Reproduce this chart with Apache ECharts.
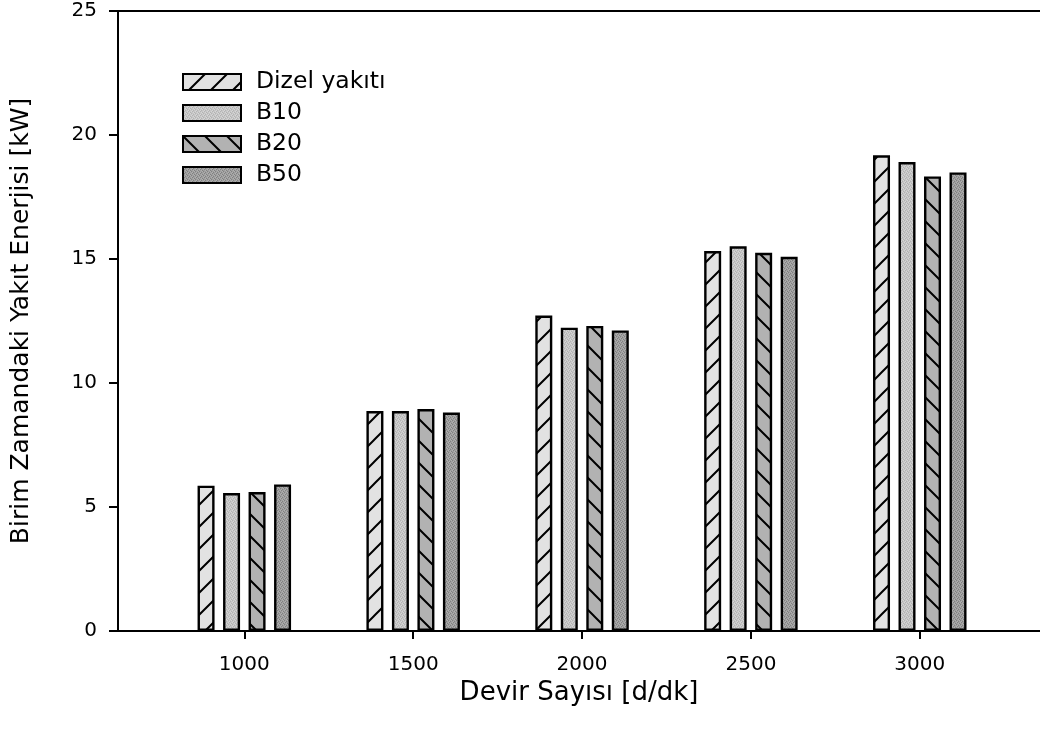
<!DOCTYPE html>
<html>
<head>
<meta charset="utf-8">
<script src="https://cdn.jsdelivr.net/npm/echarts@6/dist/echarts.min.js"></script>
<style>
  html, body { margin: 0; padding: 0; background: #fff; }
  #chart { width: 1040px; height: 742px; }
</style>
</head>
<body>
<div id="chart"></div>
<script>
// Engine speed groups (rpm)
const speeds = [1000, 1500, 2000, 2500, 3000];
// Fuel energy per unit time [kW] for each fuel
const dizel = [5.86, 8.87, 12.72, 15.32, 19.18];
const b10   = [5.56, 8.87, 12.23, 15.51, 18.91];
const b20   = [5.60, 8.95, 12.30, 15.25, 18.33];
const b50   = [5.91, 8.81, 12.12, 15.09, 18.49];
const seriesNames = ['Dizel yakıtı', 'B10', 'B20', 'B50'];

// Fill patterns for the bars
function hatch(base, dir, step) {
  const c = document.createElement('canvas');
  c.width = step; c.height = step;
  const g = c.getContext('2d');
  g.fillStyle = base; g.fillRect(0, 0, step, step);
  g.strokeStyle = '#000'; g.lineWidth = 2;
  g.beginPath();
  for (let k = -1; k <= 1; k++) {
    const o = k * step;
    if (dir > 0) { g.moveTo(o - 2, step + 2); g.lineTo(o + step + 2, -2); }
    else { g.moveTo(o - 2, -2); g.lineTo(o + step + 2, step + 2); }
  }
  g.stroke();
  return { image: c, repeat: 'repeat' };
}
function grain(base, dark, light) {
  const c = document.createElement('canvas');
  c.width = 4; c.height = 4;
  const g = c.getContext('2d');
  g.fillStyle = base; g.fillRect(0, 0, 4, 4);
  g.fillStyle = dark;
  [[0,0],[2,1],[1,2],[3,3]].forEach(p => g.fillRect(p[0], p[1], 1, 1));
  g.fillStyle = light;
  [[2,3],[0,2],[3,0],[1,1]].forEach(p => g.fillRect(p[0], p[1], 1, 1));
  return { image: c, repeat: 'repeat' };
}
const fills = [
  hatch('#e2e2e2', 1, 22),
  grain('#c6c6c6', '#b2b2b2', '#d6d6d6'),
  hatch('#b2b2b2', -1, 22),
  grain('#9e9e9e', '#808080', '#b0b0b0')
];
const values = [dizel, b10, b20, b50];

const font = 'DejaVu Sans';
const chart = echarts.init(document.getElementById('chart'), null, { renderer: 'canvas' });
const xMin = 626, xMax = 3356;

chart.setOption({
  backgroundColor: '#fff',
  animation: false,
  grid: { left: 118, right: 0, top: 11, bottom: 111, containLabel: false },
  legend: {
    orient: 'vertical',
    left: 182, top: 70, padding: 0,
    itemWidth: 58, itemHeight: 16, itemGap: 7,
    icon: 'rect',
    itemStyle: { borderColor: '#000', borderWidth: 2 },
    textStyle: { fontFamily: font, fontSize: 23.5, color: '#000', lineHeight: 23, padding: [0, 0, 0, 10] },
    data: seriesNames
  },
  xAxis: [{
    type: 'value', min: xMin, max: xMax,
    name: 'Devir Sayısı [d/dk]', nameLocation: 'middle', nameGap: 46,
    nameTextStyle: { fontFamily: font, fontSize: 26, color: '#000' },
    axisLine: { show: true, onZero: false, lineStyle: { color: '#000', width: 2 } },
    axisTick: { show: true, length: 8, lineStyle: { color: '#000', width: 2 }, customValues: speeds },
    axisLabel: { margin: 24, fontFamily: font, fontSize: 20, color: '#000', customValues: speeds,
                 formatter: v => String(v) },
    splitLine: { show: false }
  }, {
    type: 'value', min: xMin, max: xMax, position: 'top',
    axisLine: { show: true, onZero: false, lineStyle: { color: '#000', width: 2 } },
    axisTick: { show: false }, axisLabel: { show: false }, splitLine: { show: false }
  }],
  yAxis: {
    type: 'value', min: 0, max: 25, interval: 5,
    name: 'Birim Zamandaki Yakıt Enerjisi [kW]', nameLocation: 'middle', nameGap: 84,
    nameTextStyle: { fontFamily: font, fontSize: 25, color: '#000' },
    axisLine: { show: true, lineStyle: { color: '#000', width: 2 } },
    axisTick: { show: true, length: 9, lineStyle: { color: '#000', width: 2 } },
    axisLabel: { margin: 21, fontFamily: font, fontSize: 20, color: '#000' },
    splitLine: { show: false }
  },
  series: seriesNames.map((name, i) => ({
    name: name,
    type: 'bar',
    xAxisIndex: 0,
    barWidth: 17,
    barGap: '50%',
    itemStyle: { color: fills[i], borderColor: '#000', borderWidth: 2.4 },
    data: speeds.map((s, j) => [s, values[i][j]])
  }))
});
</script>
</body>
</html>
